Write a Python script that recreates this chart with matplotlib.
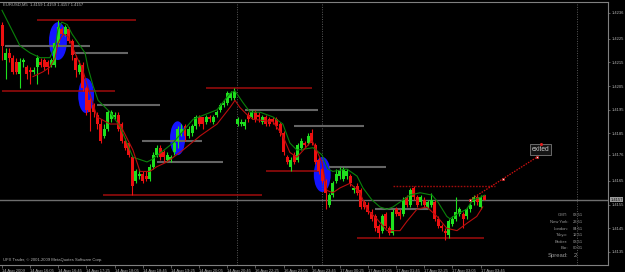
import matplotlib
matplotlib.use("Agg")
import matplotlib.pyplot as plt
from matplotlib.patches import Ellipse
import matplotlib.transforms as mtransforms

# ---------------- data ----------------
header_text = "EURUSD,M5  1.4159 1.4159 1.4157 1.4157"
copyright_text = "UFX Trader, \u00a9 2001-2009 MetaQuotes Software Corp."

opens = [1.4231, 1.4216, 1.4219, 1.4217, 1.4215, 1.4210, 1.4215, 1.4213, 1.4212, 1.4211,
         1.4213, 1.4215, 1.4216, 1.4215, 1.4214, 1.4214, 1.4223, 1.4229, 1.4227, 1.4229,
         1.4224, 1.4217, 1.4211, 1.4214, 1.4204, 1.4199, 1.4197, 1.4193, 1.4189, 1.4184,
         1.4187, 1.4191, 1.4192, 1.4193, 1.4189, 1.4182, 1.4181, 1.4175, 1.4165, 1.4167,
         1.4168, 1.4167, 1.4166, 1.4171, 1.4176, 1.4179, 1.4177, 1.4174, 1.4174, 1.4177,
         1.4182, 1.4185, 1.4188, 1.4184, 1.4185, 1.4188, 1.4192, 1.4192, 1.4190, 1.4192,
         1.4190, 1.4193, 1.4195, 1.4197, 1.4198, 1.4200, 1.4200, 1.4189, 1.4189, 1.4188,
         1.4193, 1.4192, 1.4194, 1.4193, 1.4190, 1.4192, 1.4191, 1.4191, 1.4191, 1.4189,
         1.4185, 1.4175, 1.4171, 1.4176, 1.4174, 1.4179, 1.4181, 1.4181, 1.4185, 1.4180,
         1.4174, 1.4170, 1.4165, 1.4155, 1.4159, 1.4165, 1.4167, 1.4166, 1.4167, 1.4167,
         1.4161, 1.4163, 1.4161, 1.4156, 1.4155, 1.4152, 1.4150, 1.4146, 1.4144, 1.4151,
         1.4145, 1.4143, 1.4153, 1.4152, 1.4151, 1.4158, 1.4155, 1.4162, 1.4158, 1.4156,
         1.4157, 1.4154, 1.4155, 1.4156, 1.4149, 1.4146, 1.4144, 1.4142, 1.4147, 1.4149,
         1.4151, 1.4151, 1.4150, 1.4153, 1.4156, 1.4158, 1.4154, 1.4159]
highs = [1.4232, 1.4221, 1.4221, 1.4218, 1.4217, 1.4217, 1.4217, 1.4214, 1.4213, 1.4213,
         1.4218, 1.4217, 1.4217, 1.4216, 1.4217, 1.4224, 1.4233, 1.4230, 1.4231, 1.4230,
         1.4225, 1.4218, 1.4216, 1.4215, 1.4205, 1.4200, 1.4198, 1.4194, 1.4191, 1.4189,
         1.4195, 1.4195, 1.4194, 1.4194, 1.4190, 1.4183, 1.4181, 1.4176, 1.4170, 1.4170,
         1.4169, 1.4169, 1.4172, 1.4177, 1.4180, 1.4180, 1.4178, 1.4177, 1.4176, 1.4182,
         1.4188, 1.4189, 1.4189, 1.4188, 1.4189, 1.4193, 1.4193, 1.4192, 1.4193, 1.4193,
         1.4193, 1.4195, 1.4198, 1.4199, 1.4203, 1.4203, 1.4204, 1.4192, 1.4191, 1.4191,
         1.4194, 1.4195, 1.4195, 1.4194, 1.4193, 1.4193, 1.4192, 1.4192, 1.4192, 1.4190,
         1.4186, 1.4176, 1.4175, 1.4177, 1.4181, 1.4183, 1.4182, 1.4185, 1.4187, 1.4181,
         1.4175, 1.4171, 1.4166, 1.4160, 1.4165, 1.4170, 1.4171, 1.4171, 1.4170, 1.4168,
         1.4163, 1.4164, 1.4162, 1.4157, 1.4156, 1.4153, 1.4151, 1.4147, 1.4151, 1.4152,
         1.4146, 1.4153, 1.4154, 1.4153, 1.4158, 1.4159, 1.4162, 1.4163, 1.4159, 1.4159,
         1.4158, 1.4157, 1.4160, 1.4157, 1.4150, 1.4147, 1.4145, 1.4149, 1.4150, 1.4158,
         1.4154, 1.4152, 1.4154, 1.4156, 1.4159, 1.4159, 1.4159, 1.4159]
lows = [1.4216, 1.4208, 1.4215, 1.4210, 1.4210, 1.4204, 1.4213, 1.4208, 1.4206, 1.4210,
        1.4206, 1.4213, 1.4212, 1.4210, 1.4213, 1.4213, 1.4222, 1.4226, 1.4226, 1.4223,
        1.4216, 1.4209, 1.4210, 1.4203, 1.4193, 1.4186, 1.4192, 1.4187, 1.4181, 1.4183,
        1.4186, 1.4190, 1.4191, 1.4186, 1.4181, 1.4178, 1.4175, 1.4159, 1.4164, 1.4166,
        1.4164, 1.4165, 1.4165, 1.4170, 1.4175, 1.4174, 1.4173, 1.4173, 1.4173, 1.4176,
        1.4179, 1.4184, 1.4182, 1.4183, 1.4184, 1.4187, 1.4188, 1.4187, 1.4189, 1.4190,
        1.4189, 1.4192, 1.4194, 1.4196, 1.4197, 1.4199, 1.4199, 1.4188, 1.4188, 1.4187,
        1.4190, 1.4191, 1.4190, 1.4190, 1.4189, 1.4188, 1.4188, 1.4189, 1.4187, 1.4184,
        1.4176, 1.4172, 1.4169, 1.4172, 1.4173, 1.4178, 1.4179, 1.4180, 1.4180, 1.4172,
        1.4168, 1.4164, 1.4153, 1.4154, 1.4158, 1.4164, 1.4166, 1.4165, 1.4166, 1.4163,
        1.4160, 1.4159, 1.4153, 1.4153, 1.4151, 1.4148, 1.4144, 1.4141, 1.4143, 1.4145,
        1.4142, 1.4142, 1.4150, 1.4149, 1.4150, 1.4154, 1.4154, 1.4157, 1.4154, 1.4155,
        1.4154, 1.4153, 1.4154, 1.4148, 1.4145, 1.4144, 1.4140, 1.4141, 1.4146, 1.4148,
        1.4150, 1.4145, 1.4149, 1.4152, 1.4155, 1.4155, 1.4153, 1.4157]
closes = [1.4222, 1.4219, 1.4217, 1.4211, 1.4211, 1.4215, 1.4216, 1.4210, 1.4211, 1.4212,
          1.4217, 1.4214, 1.4213, 1.4213, 1.4216, 1.4223, 1.4230, 1.4227, 1.4230, 1.4224,
          1.4218, 1.4212, 1.4214, 1.4204, 1.4195, 1.4194, 1.4194, 1.4189, 1.4182, 1.4187,
          1.4194, 1.4194, 1.4193, 1.4187, 1.4182, 1.4179, 1.4176, 1.4163, 1.4169, 1.4168,
          1.4165, 1.4166, 1.4171, 1.4176, 1.4179, 1.4175, 1.4175, 1.4176, 1.4175, 1.4181,
          1.4187, 1.4187, 1.4184, 1.4187, 1.4188, 1.4192, 1.4189, 1.4189, 1.4192, 1.4191,
          1.4192, 1.4194, 1.4197, 1.4198, 1.4202, 1.4202, 1.4203, 1.4191, 1.4190, 1.4190,
          1.4191, 1.4194, 1.4191, 1.4192, 1.4192, 1.4189, 1.4189, 1.4190, 1.4188, 1.4185,
          1.4177, 1.4173, 1.4174, 1.4173, 1.4180, 1.4182, 1.4180, 1.4184, 1.4181, 1.4173,
          1.4169, 1.4165, 1.4160, 1.4159, 1.4164, 1.4168, 1.4169, 1.4170, 1.4169, 1.4164,
          1.4162, 1.4160, 1.4154, 1.4154, 1.4152, 1.4149, 1.4145, 1.4143, 1.4150, 1.4146,
          1.4143, 1.4152, 1.4151, 1.4150, 1.4157, 1.4155, 1.4161, 1.4158, 1.4155, 1.4158,
          1.4155, 1.4156, 1.4157, 1.4149, 1.4146, 1.4145, 1.4143, 1.4148, 1.4149, 1.4152,
          1.4153, 1.4149, 1.4153, 1.4155, 1.4158, 1.4156, 1.4158, 1.4157]

time_tick_bars = [0, 8, 16, 24, 32, 40, 48, 56, 64, 72, 80, 88, 96, 104, 112, 120, 128, 136]
time_tick_labels = ["14 Aug 2009", "14 Aug 16:05", "14 Aug 16:45", "14 Aug 17:25",
                    "14 Aug 18:05", "14 Aug 18:45", "14 Aug 19:25", "14 Aug 20:05",
                    "14 Aug 20:45", "16 Aug 22:25", "16 Aug 23:05", "16 Aug 23:45",
                    "17 Aug 00:25", "17 Aug 01:05", "17 Aug 01:45", "17 Aug 02:25",
                    "17 Aug 03:05", "17 Aug 03:45"]

price_ticks = [1.4236, 1.4225, 1.4215, 1.4205, 1.4195, 1.4185, 1.4176, 1.4165,
               1.4155, 1.4145, 1.4135]
price_tick_labels = ["1.4236", "1.4225", "1.4215", "1.4205", "1.4195", "1.4185",
                     "1.4176", "1.4165", "1.4155", "1.4145", "1.4135"]
bid_price = 1.4157

green_ma_bars = [0, 5.1, 8, 10.8, 13.6, 15.1, 15.9, 17, 18.5, 19.9, 22.2, 23.6, 24.4, 25.9,
                 27.3, 30.7, 33.5, 35.5, 37.2, 41.2, 42.6, 48.6, 54.3, 61.1, 64.8, 66.2,
                 68.5, 70.5, 73.3, 77, 79.8, 81.8, 83.8, 88.4, 90.9, 92.6, 94, 98, 100.9,
                 102.6, 105.1, 107.4, 109.4, 111.1, 115.9, 118.8, 122.2, 123.9, 126.4,
                 127.3, 129.3, 132, 133.8, 135.8, 137.2]
green_ma_vals = [1.4237, 1.4222, 1.4219, 1.4217, 1.4217, 1.4222, 1.4229, 1.4232, 1.4231,
                 1.4227, 1.4222, 1.4219, 1.4213, 1.4205, 1.4199, 1.4194, 1.4188, 1.4181,
                 1.4175, 1.4173, 1.4174, 1.4181, 1.4191, 1.4195, 1.4202, 1.4203, 1.4198,
                 1.4194, 1.4194, 1.4192, 1.4189, 1.4181, 1.4178, 1.4179, 1.4176, 1.4170,
                 1.4169, 1.4170, 1.4167, 1.4162, 1.4157, 1.4154, 1.4153, 1.4154, 1.4159,
                 1.4160, 1.4159, 1.4156, 1.4150, 1.4149, 1.4151, 1.4153, 1.4157, 1.4158,
                 1.4159]

red_ma_bars = [8.8, 11.6, 13.6, 15.1, 15.9, 17.3, 18.8, 19.9, 21.3, 22.7, 24.1, 27, 30.7,
               33.5, 37.2, 39.2, 42, 44, 46.9, 51.4, 56.3, 61.1, 64.8, 66.2, 67.6, 69.6,
               71.3, 77, 79.8, 81.8, 83.8, 88.1, 90.9, 92.3, 94, 96, 98.9, 101.7, 103.7,
               106.5, 109.4, 113.1, 115.1, 117.9, 120.7, 123.6, 126.4, 129.3, 132, 134.9,
               136.6]
red_ma_vals = [1.4209, 1.4211, 1.4213, 1.4217, 1.4223, 1.4227, 1.4226, 1.4222, 1.4217,
               1.4213, 1.4206, 1.4192, 1.4189, 1.4189, 1.4178, 1.4169, 1.4169, 1.4171,
               1.4173, 1.4178, 1.4184, 1.4189, 1.4196, 1.4199, 1.4196, 1.4193, 1.4191,
               1.4190, 1.4184, 1.4177, 1.4175, 1.4182, 1.4173, 1.4161, 1.4160, 1.4162,
               1.4164, 1.4160, 1.4153, 1.4149, 1.4144, 1.4144, 1.4148, 1.4153, 1.4154,
               1.4150, 1.4145, 1.4144, 1.4147, 1.4150, 1.4154]

red_level_start = [10, 0, 28.7, 58, 75, 101]
red_level_end = [38, 32, 74, 88, 90.3, 137]
red_level_price = [1.4233, 1.4203, 1.4159, 1.4204, 1.4169, 1.4141]

dotted_level_start = [111]
dotted_level_end = [140]
dotted_level_price = [1.4163]

gray_level_start = [0.9, 20, 27, 39.8, 44, 69, 83, 93, 106]
gray_level_end = [25, 35.8, 45, 56.8, 62.8, 89.8, 102.8, 109, 121]
gray_level_price = [1.4222, 1.4219, 1.4197, 1.4182, 1.4173, 1.4195, 1.4188, 1.4171, 1.4153]

ellipse_bar = [15.9, 23.9, 49.9, 91.0]
ellipse_price = [1.4224, 1.4201, 1.4183, 1.41677]
ellipse_width_bars = [5.1, 4.5, 4.3, 4.8]
ellipse_height_price = [0.0016, 0.00148, 0.00143, 0.00148]

trend_bars = [133, 142.5, 152]
trend_prices = [1.4157, 1.4166, 1.4175]
label_text = "exited"
label_bar = 153.1
label_price = 1.41783

separator_bars = [66.75, 90.9, 163.4]

info_labels = ["GMT:", "New York:", "London:", "Tokyo:", "Broker:", "Bar:"]
info_values = ["03:51", "23:51", "04:51", "12:51", "03:51", "00:01"]
spread_label = "Spread:"
spread_value = "2"

# ---------------- drawing ----------------
FONT = ["Liberation Sans", "DejaVu Sans"]
TXT = "#b4b4b4"
FRAME = "#808080"
BULL = "#1ee01e"
BEAR = "#ee1010"

fig = plt.figure(figsize=(6.25, 2.72), dpi=100, facecolor="black")
ax = fig.add_axes([0.0, 7 / 272, 608 / 625, 263 / 272])
ax.set_facecolor("black")
ax.set_xlim(-0.57, 172.2)
ax.set_ylim(1.41295, 1.42405)

# ellipses (background objects)
for b, p, w, h in zip(ellipse_bar, ellipse_price, ellipse_width_bars, ellipse_height_price):
    ax.add_patch(Ellipse((b, p), w, h, facecolor="#1414ff", edgecolor="none", zorder=1))

# separators
for s in separator_bars:
    ax.axvline(s, color="#5a5a5a", lw=0.7, linestyle=(0, (1, 1.5)), zorder=1.5)

# bid line
ax.axhline(bid_price, color="#6e6e6e", lw=1.0, zorder=1.5)

# horizontal level objects
ax.hlines(gray_level_price, gray_level_start, gray_level_end, color="#656565", lw=1.5, zorder=2)
ax.hlines(red_level_price, red_level_start, red_level_end, color="#a00c0c", lw=1.1, zorder=2)
ax.hlines(dotted_level_price, dotted_level_start, dotted_level_end, color="#a00c0c", lw=1.0,
          linestyles=(0, (1.2, 1.0)), zorder=2)

# candles
bars = list(range(len(opens)))
cols = [BULL if c >= o else BEAR for o, c in zip(opens, closes)]
ax.vlines(bars, lows, highs, colors=cols, lw=0.8, zorder=3)
bottoms = [min(o, c) for o, c in zip(opens, closes)]
heights = [max(abs(c - o), 0.00003) for o, c in zip(opens, closes)]
ax.bar(bars, heights, bottom=bottoms, width=0.85, color=cols, edgecolor="none", zorder=3.5)

# moving averages
ax.plot(green_ma_bars, green_ma_vals, color="#0a820a", lw=0.8, zorder=4)
ax.plot(red_ma_bars, red_ma_vals, color="#b80e0e", lw=0.8, zorder=4)

# trend line with handles
ax.plot([trend_bars[0], trend_bars[-1]], [trend_prices[0], trend_prices[-1]], color="#d01010",
        lw=0.9, linestyle=(0, (1.2, 1.0)), zorder=4.5)
ax.plot(trend_bars, trend_prices, linestyle="none", marker="s", markersize=2.0,
        markerfacecolor="#f0f0f0", markeredgecolor="#d01010", markeredgewidth=0.5, zorder=5)

# text label object
ax.text(label_bar, label_price, label_text, color="#c8c8c8", fontsize=4.8, family=FONT,
        ha="center", va="center", zorder=6,
        bbox=dict(boxstyle="square,pad=0.25", facecolor="#141414", edgecolor="#7a7a7a", lw=0.6))
ax.plot([label_bar], [label_price + 0.00022], marker="o", markersize=1.2, color="#e02020",
        linestyle="none", zorder=7)

# axes styling
for side in ["top", "bottom", "right"]:
    ax.spines[side].set_color(FRAME)
    ax.spines[side].set_linewidth(0.8)
ax.spines["left"].set_visible(False)

ax.yaxis.tick_right()
ax.set_yticks(price_ticks, price_tick_labels)
ax.tick_params(axis="y", colors=TXT, labelsize=3.0, length=1.5, width=0.5, pad=1.5)
ax.set_xticks(time_tick_bars, time_tick_labels)
ax.tick_params(axis="x", colors=TXT, labelsize=3.0, length=2, width=0.5, pad=1.0)
for lab in ax.get_xticklabels() + ax.get_yticklabels():
    lab.set_family(FONT)
for lab in ax.get_xticklabels():
    lab.set_horizontalalignment("left")
ax.tick_params(axis="y", color=FRAME)
ax.tick_params(axis="x", color=FRAME)

# bid label on the price scale
trans = mtransforms.blended_transform_factory(ax.transAxes, ax.transData)
ax.text(1.004, bid_price, "%.4f" % bid_price, transform=trans, fontsize=3.0, family=FONT,
        color="#101010", ha="left", va="center", clip_on=False, zorder=8,
        bbox=dict(boxstyle="square,pad=0.15", facecolor="#9a9a9a", edgecolor="none"))

# header and copyright
ax.text(3 / 608, 0.992, header_text, transform=ax.transAxes, color=TXT, fontsize=3.0,
        family=FONT, ha="left", va="center")
ax.text(3 / 608, 0.019, copyright_text, transform=ax.transAxes, color=TXT, fontsize=3.0,
        family=FONT, ha="left", va="center")

# info panel
info_y = [0.190, 0.1635, 0.137, 0.114, 0.0875, 0.0646]
for lab, val, yy in zip(info_labels, info_values, info_y):
    ax.text(568 / 608, yy, lab, transform=ax.transAxes, color="#9a9a9a", fontsize=3.0,
            family=FONT, ha="right", va="center")
    ax.text(573 / 608, yy, val, transform=ax.transAxes, color="#9a9a9a", fontsize=3.0,
            family=FONT, ha="left", va="center")
ax.text(568 / 608, 0.038, spread_label, transform=ax.transAxes, color="#9a9a9a", fontsize=4.2,
        family=FONT, ha="right", va="center")
ax.text(574 / 608, 0.038, spread_value, transform=ax.transAxes, color="#9a9a9a", fontsize=4.2,
        family=FONT, ha="left", va="center")

fig.savefig("out.png", dpi=100, facecolor="black")
